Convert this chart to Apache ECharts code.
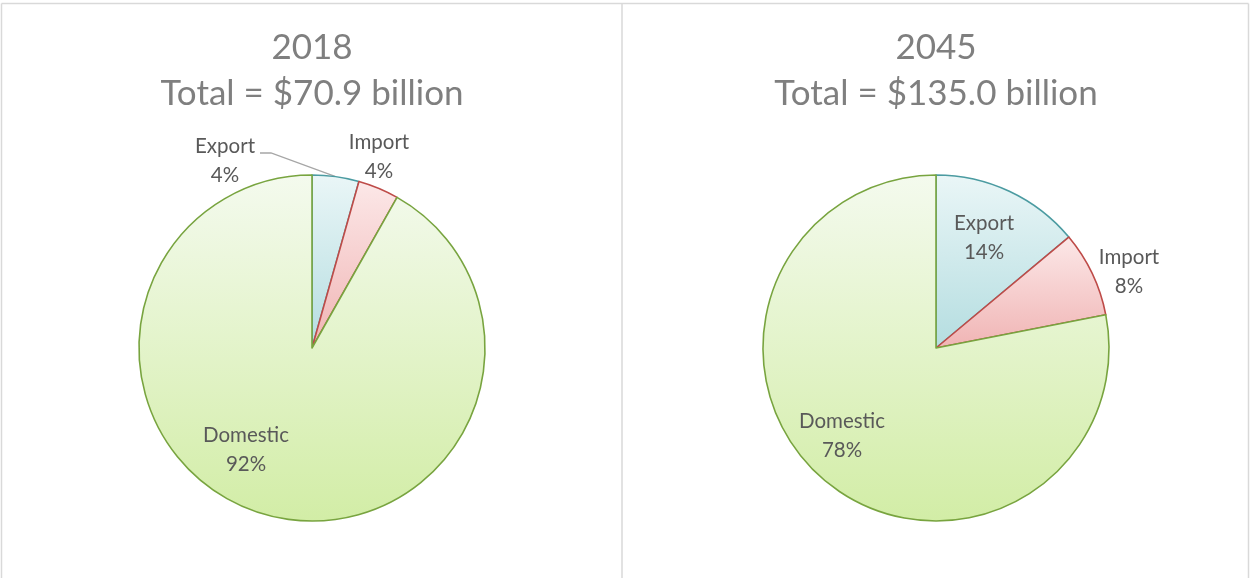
<!DOCTYPE html>
<html>
<head>
<meta charset="utf-8">
<script src="https://cdn.jsdelivr.net/npm/echarts@6/dist/echarts.min.js"></script>
<style>
  html, body { margin: 0; padding: 0; background: #fff; }
  #chart { width: 1250px; height: 578px; }
</style>
</head>
<body>
<div id="chart"></div>
<script>
// Market value by trade flow, billions of dollars
const categories = ['Export', 'Import', 'Domestic'];
const years = ['2018', '2045'];
const totals = [70.9, 135.0];
const values2018 = [3.1, 2.7, 65.1];
const values2045 = [18.8, 10.8, 105.4];

// Slice styling (vertical gradient, darker at the bottom)
const sliceStyles = {
  Export:   { top: '#eaf6f7', bottom: '#b4dde0', border: '#4b9ba1' },
  Import:   { top: '#fce8e8', bottom: '#f0b4b4', border: '#be4b48' },
  Domestic: { top: '#f4faee', bottom: '#d2eda6', border: '#78a43f' }
};

// Label block centre, relative to each pie centre
const labelSpots = [
  { Export: [-87, -187], Import: [67, -191], Domestic: [-66, 102] },
  { Export: [48, -110],  Import: [193, -76],  Domestic: [-94, 88] }
];
const centers = [[312, 348], [936, 348]];
const radius = 173;

function buildData(values) {
  return categories.map((name, i) => {
    const s = sliceStyles[name];
    return {
      name,
      value: values[i],
      itemStyle: {
        color: {
          type: 'linear', x: 0, y: 0, x2: 0, y2: 1,
          colorStops: [{ offset: 0, color: s.top }, { offset: 1, color: s.bottom }]
        },
        borderColor: s.border,
        borderWidth: 1.6
      }
    };
  });
}

function buildSeries(values, k) {
  return {
    type: 'pie',
    center: centers[k],
    radius: radius,
    startAngle: 90,
    clockwise: true,
    animation: false,
    silent: true,
    data: buildData(values),
    label: {
      show: true,
      position: 'outside',
      formatter: p => p.name + '\n' + Math.round(p.percent) + '%',
      fontFamily: 'Lato, "Open Sans", sans-serif',
      fontSize: 20.5,
      lineHeight: 29,
      color: '#595959',
      align: 'center'
    },
    labelLine: {
      show: false,
      lineStyle: { color: '#a6a6a6', width: 1.3 }
    },
    labelLayout: params => {
      const name = categories[params.dataIndex];
      const off = labelSpots[k][name];
      const cx = centers[k][0] + off[0];
      const cy = centers[k][1] + off[1];
      const out = { x: cx, y: cy, align: 'center', verticalAlign: 'middle' };
      // Leader line for the small 2018 export slice: from the arc to the label's right side
      if (k === 0 && name === 'Export' && params.labelLinePoints) {
        const w = params.labelRect.width;
        const lineY = cy - params.labelRect.height / 2 + 21;
        out.labelLinePoints = [
          params.labelLinePoints[0],
          [cx + w / 2 + 16, lineY],
          [cx + w / 2 + 5, lineY]
        ];
      }
      return out;
    }
  };
}

const chart = echarts.init(document.getElementById('chart'), null, { renderer: 'canvas' });

const titleStyle = {
  fontFamily: 'Lato, "Open Sans", sans-serif',
  fontSize: 35,
  fontWeight: 'normal',
  color: '#7f7f7f',
  lineHeight: 46
};

const series = [buildSeries(values2018, 0), buildSeries(values2045, 1)];
series[0].data[0].labelLine = { show: true, length: 10, length2: 8 };

chart.setOption({
  backgroundColor: '#ffffff',
  title: years.map((y, k) => ({
    text: y + '\nTotal = $' + totals[k].toFixed(1) + ' billion',
    left: centers[k][0],
    top: 25,
    padding: 0,
    textAlign: 'center',
    textStyle: titleStyle
  })),
  graphic: [
    { type: 'line', shape: { x1: 1.5, y1: 3.5, x2: 1248.5, y2: 3.5 }, style: { stroke: '#d9d9d9', lineWidth: 1.5 }, silent: true },
    { type: 'line', shape: { x1: 1.5, y1: 3.5, x2: 1.5, y2: 578 }, style: { stroke: '#d9d9d9', lineWidth: 1.5 }, silent: true },
    { type: 'line', shape: { x1: 622, y1: 3.5, x2: 622, y2: 578 }, style: { stroke: '#d9d9d9', lineWidth: 1.5 }, silent: true },
    { type: 'line', shape: { x1: 1248.5, y1: 3.5, x2: 1248.5, y2: 578 }, style: { stroke: '#d9d9d9', lineWidth: 1.5 }, silent: true }
  ],
  series
});
</script>
</body>
</html>
